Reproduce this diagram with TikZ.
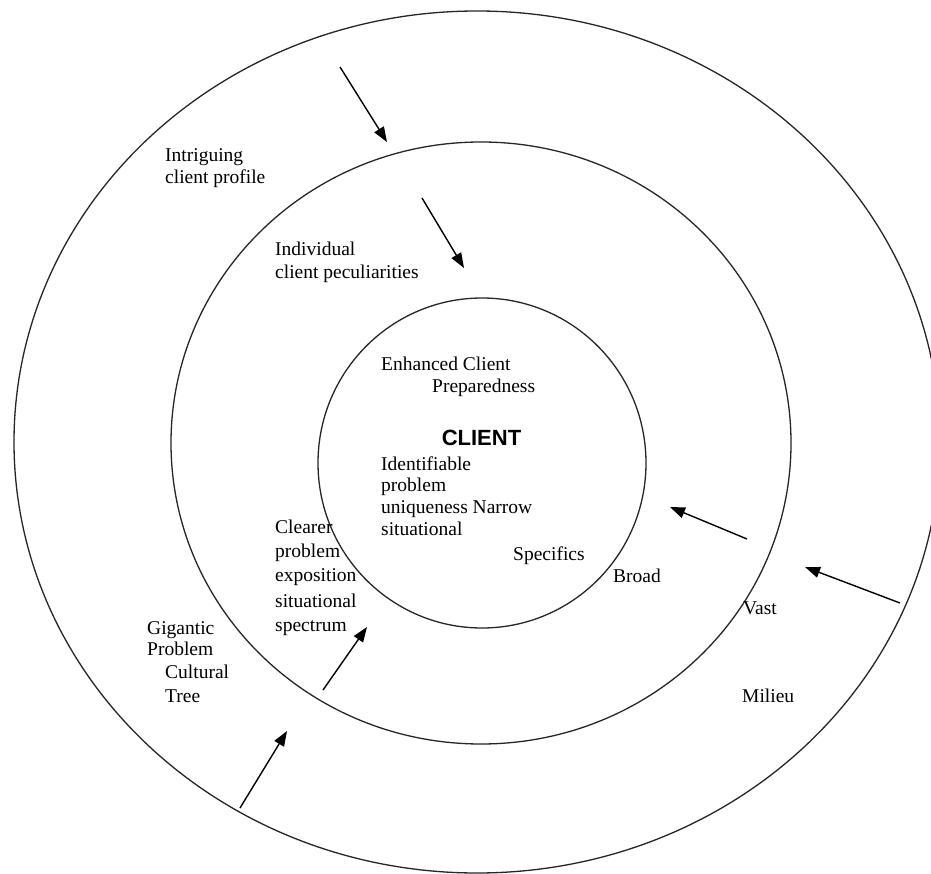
\documentclass[tikz,border=0pt]{standalone}
\usepackage{fontspec}
\setmainfont{Liberation Serif}
\newfontfamily\clientsans{Liberation Sans}
\usetikzlibrary{arrows.meta}
\begin{document}
\begin{tikzpicture}[x=1pt,y=-1pt,
  ring/.style={line width=1.3pt,draw=black!85},
  arr/.style={line width=1.4pt,-{Triangle[length=15pt,width=11pt]}},
  lbl/.style={anchor=base west,inner sep=0pt,font=\fontsize{19.5}{22}\selectfont},
  ctr/.style={anchor=base,inner sep=0pt,font=\clientsans\bfseries\fontsize{22}{26}\selectfont}]
\clip (0,0) rectangle (931,874);
\fill[white] (0,0) rectangle (931,874);
% rings
\draw[ring] (477,442) ellipse [x radius=463, y radius=431];
\draw[ring] (481,443) ellipse [x radius=310, y radius=301];
\draw[ring] (482,463) ellipse [x radius=164, y radius=165];
% arrow end points
\coordinate (a1s) at (340,67);  \coordinate (a1e) at (387,142);
\coordinate (a2s) at (422,198); \coordinate (a2e) at (464,268);
\coordinate (a3s) at (747,539); \coordinate (a3e) at (670,507);
\coordinate (a4s) at (900,603); \coordinate (a4e) at (805,567);
\coordinate (a5s) at (323,690); \coordinate (a5e) at (367,627);
\coordinate (a6s) at (240,808); \coordinate (a6e) at (287,731);
\draw[arr] (a1s) -- (a1e);
\draw[arr] (a2s) -- (a2e);
\draw[arr] (a3s) -- (a3e);
\draw[arr] (a4s) -- (a4e);
\draw[arr] (a5s) -- (a5e);
\draw[arr] (a6s) -- (a6e);
% labels
\node[lbl] (intr1) at (165,162) {Intriguing};
\node[lbl] (intr2) at (165,184) {client profile};
\node[lbl] (ind1) at (275,256) {Individual};
\node[lbl] (ind2) at (275,279) {client peculiarities};
\node[lbl] (enh1) at (381,370) {Enhanced Client};
\node[lbl] (enh2) at (432,392) {Preparedness};
\node[ctr] (client) at (481.5,445) {CLIENT};
\node[lbl] (id1) at (381,470) {Identifiable};
\node[lbl] (id2) at (381,491) {problem};
\node[lbl] (id3) at (381,513) {uniqueness Narrow};
\node[lbl] (id4) at (381,535) {situational};
\node[lbl] (spec) at (513,560) {Specifics};
\node[lbl] (broad) at (613,582) {Broad};
\node[lbl] (vast) at (743,614) {Vast};
\node[lbl] (milieu) at (742,702) {Milieu};
\node[lbl] (clr1) at (275,533) {Clearer};
\node[lbl] (clr2) at (275,557) {problem};
\node[lbl] (clr3) at (275,581) {exposition};
\node[lbl] (clr4) at (275,607) {situational};
\node[lbl] (clr5) at (275,631) {spectrum};
\node[lbl] (gig1) at (147,634) {Gigantic};
\node[lbl] (gig2) at (147,655) {Problem};
\node[lbl] (gig3) at (165,678) {Cultural};
\node[lbl] (gig4) at (165,702) {Tree};
\end{tikzpicture}
\end{document}
